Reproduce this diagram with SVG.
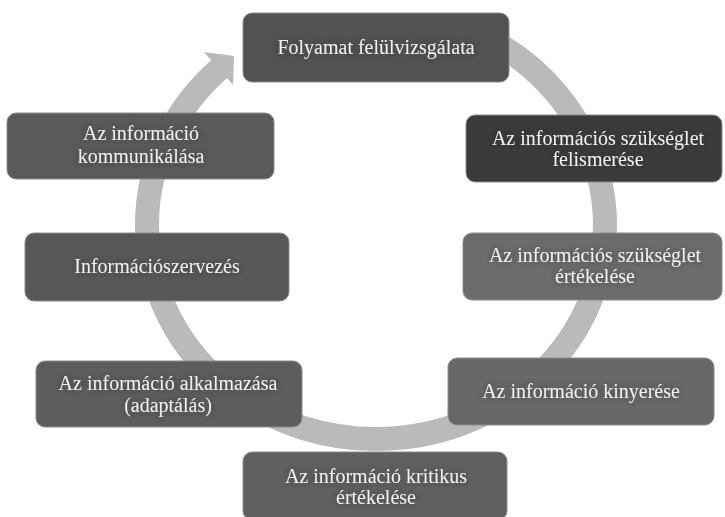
<svg xmlns="http://www.w3.org/2000/svg" width="725" height="517" viewBox="0 0 725 517">
  <defs>
    <filter id="halo" x="-20%" y="-60%" width="140%" height="220%">
      <feGaussianBlur in="SourceAlpha" stdDeviation="3" result="b"/>
      <feFlood flood-color="#2a2a2a" flood-opacity="0.55"/>
      <feComposite in2="b" operator="in" result="s"/>
      <feMerge>
        <feMergeNode in="s"/>
        <feMergeNode in="SourceGraphic"/>
      </feMerge>
    </filter>
  </defs>
  <style>
    .box { stroke: #8c8c8c; stroke-width: 1; }
    .lbl { font-family: "Liberation Serif", "Times New Roman", serif; font-size: 20px; fill: #f0f0f0; text-anchor: middle; filter: url(#halo); }
    .ring { fill: none; stroke: #bababa; stroke-width: 24; }
  </style>
  <rect width="725" height="517" fill="#ffffff"/>

  <!-- circular process arrow behind the steps -->
  <g id="connectors">
    <path class="ring" d="M 490.5 39.7 A 229 214 0 1 1 219.8 68.5"/>
    <polygon points="204,52 234,56 233,85" fill="#bababa"/>
  </g>

  <g id="n1">
    <rect class="box" x="243" y="13" width="266" height="69" rx="9" fill="#525252"/>
    <text class="lbl" x="376" y="54">Folyamat felülvizsgálata</text>
  </g>
  <g id="n2">
    <rect class="box" x="466" y="115" width="256" height="67" rx="9" fill="#3b3b3b"/>
    <text class="lbl" x="598" y="145">Az információs szükséglet</text>
    <text class="lbl" x="598" y="166">felismerése</text>
  </g>
  <g id="n3">
    <rect class="box" x="463" y="233" width="259" height="67" rx="9" fill="#6c6c6c"/>
    <text class="lbl" x="595" y="262">Az információs szükséglet</text>
    <text class="lbl" x="595" y="283">értékelése</text>
  </g>
  <g id="n4">
    <rect class="box" x="448" y="358" width="266" height="67" rx="9" fill="#686868"/>
    <text class="lbl" x="581" y="398">Az információ kinyerése</text>
  </g>
  <g id="n5">
    <rect class="box" x="243" y="452" width="264" height="68" rx="9" fill="#606060"/>
    <text class="lbl" x="376" y="483">Az információ kritikus</text>
    <text class="lbl" x="376" y="504">értékelése</text>
  </g>
  <g id="n6">
    <rect class="box" x="36" y="361" width="266" height="66" rx="9" fill="#5d5d5d"/>
    <text class="lbl" x="168" y="390">Az információ alkalmazása</text>
    <text class="lbl" x="168" y="412">(adaptálás)</text>
  </g>
  <g id="n7">
    <rect class="box" x="25" y="233" width="264" height="68" rx="9" fill="#585858"/>
    <text class="lbl" x="157" y="273">Információszervezés</text>
  </g>
  <g id="n8">
    <rect class="box" x="7" y="113" width="267" height="66" rx="9" fill="#5a5a5a"/>
    <text class="lbl" x="141" y="140">Az információ</text>
    <text class="lbl" x="141" y="163">kommunikálása</text>
  </g>
</svg>
